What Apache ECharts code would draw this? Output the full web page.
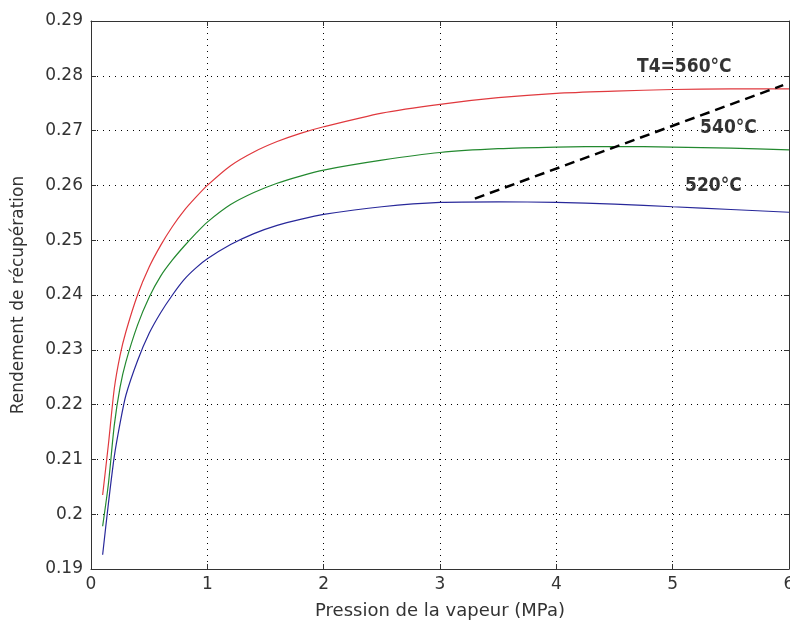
<!DOCTYPE html>
<html>
<head>
<meta charset="utf-8">
<script src="https://cdn.jsdelivr.net/npm/echarts@6/dist/echarts.min.js"></script>
<style>
  html, body { margin: 0; padding: 0; background: #fff; }
  #myChart { width: 790px; height: 625px; }
</style>
</head>
<body>
<div id="myChart"></div>
<script>
// pression de la vapeur (MPa)
var pression = [0.1, 0.15, 0.2, 0.25, 0.3, 0.4, 0.5, 0.6, 0.7, 0.8, 0.9, 1.0, 1.2, 1.4, 1.6, 1.8, 2.0, 2.5, 3.0, 3.5, 4.0, 4.5, 5.0, 5.5, 6.0];
// rendement de récupération pour chaque T4
var rend560 = [0.2035, 0.2128, 0.2229, 0.2290, 0.2333, 0.2400, 0.2451, 0.2491, 0.2525, 0.2554, 0.2578, 0.2600, 0.2636, 0.2661, 0.2680, 0.2695, 0.2707, 0.2732, 0.2748, 0.2760, 0.2768, 0.2772, 0.2775, 0.2776, 0.2776];
var rend540 = [0.1978, 0.2056, 0.2162, 0.2232, 0.2278, 0.2345, 0.2396, 0.2435, 0.2464, 0.2489, 0.2512, 0.2533, 0.2565, 0.2587, 0.2604, 0.2617, 0.2628, 0.2646, 0.2660, 0.2667, 0.2670, 0.2671, 0.2670, 0.2668, 0.2665];
var rend520 = [0.1926, 0.2020, 0.2105, 0.2166, 0.2217, 0.2280, 0.2330, 0.2368, 0.2400, 0.2428, 0.2449, 0.2466, 0.2492, 0.2512, 0.2527, 0.2538, 0.2547, 0.2561, 0.2569, 0.2570, 0.2569, 0.2566, 0.2561, 0.2556, 0.2551];
// droite en tirets (optimum)
var optimum = [[3.30, 0.2576], [5.95, 0.2783]];
// étiquettes des courbes
var etiquettes = [
  { name: 'T4=560°C', value: [5.10, 0.2816] },
  { name: '540°C', value: [5.48, 0.2705] },
  { name: '520°C', value: [5.35, 0.2599] }
];

function pairs(xs, ys) {
  return xs.map(function (x, i) { return [x, ys[i]]; });
}

var gridLine = { show: true, lineStyle: { color: '#000', width: 1, type: [1, 5] } };
var boxLine = { show: true, onZero: false, lineStyle: { color: '#333', width: 1 } };
var tickIn = { show: true, inside: true, length: 5, lineStyle: { color: '#333' } };
var labelFont = { color: '#333', fontSize: 17, fontFamily: 'DejaVu Sans' };

function courbe(data, color) {
  return {
    type: 'line',
    data: data,
    showSymbol: false,
    smooth: 0.25,
    lineStyle: { color: color, width: 1.2 },
    silent: true
  };
}

var myChart = echarts.init(document.getElementById('myChart'));
myChart.setOption({
  animation: false,
  grid: { left: 91, right: 1, top: 21, bottom: 56, outerBoundsMode: 'none', containLabel: false },
  xAxis: [
    {
      type: 'value', min: 0, max: 6, interval: 1,
      name: 'Pression de la vapeur (MPa)',
      nameLocation: 'middle', nameGap: 33,
      nameTextStyle: { color: '#333', fontSize: 18, fontFamily: 'DejaVu Sans' },
      axisLine: boxLine, axisTick: tickIn,
      axisLabel: Object.assign({ margin: 7 }, labelFont),
      splitLine: gridLine
    },
    {
      type: 'value', min: 0, max: 6, interval: 1, position: 'top',
      axisLine: boxLine, axisTick: tickIn,
      axisLabel: { show: false }, splitLine: { show: false }
    }
  ],
  yAxis: [
    {
      type: 'value', min: 0.19, max: 0.29, interval: 0.01,
      name: 'Rendement de récupération',
      nameLocation: 'middle', nameGap: 64, nameRotate: 90,
      nameTextStyle: { color: '#333', fontSize: 17, fontFamily: 'DejaVu Sans' },
      axisLine: boxLine, axisTick: tickIn,
      axisLabel: Object.assign({
        margin: 8,
        formatter: function (v) { return String(parseFloat(v.toFixed(2))); }
      }, labelFont),
      splitLine: gridLine
    },
    {
      type: 'value', min: 0.19, max: 0.29, interval: 0.01, position: 'right',
      axisLine: boxLine, axisTick: tickIn,
      axisLabel: { show: false }, splitLine: { show: false }
    }
  ],
  series: [
    courbe(pairs(pression, rend560), '#e0393e'),
    courbe(pairs(pression, rend540), '#23892f'),
    courbe(pairs(pression, rend520), '#28289a'),
    {
      type: 'line',
      data: optimum,
      showSymbol: false,
      lineStyle: { color: '#000', width: 2.5, type: [10, 6] },
      silent: true
    },
    {
      type: 'scatter',
      data: etiquettes,
      symbolSize: 0,
      silent: true,
      label: {
        show: true,
        position: 'inside',
        formatter: '{b}',
        color: '#000',
        fontSize: 19,
        fontWeight: 'bold',
        fontFamily: "'Liberation Sans Narrow', 'DejaVu Sans Condensed', sans-serif"
      }
    }
  ]
});
</script>
</body>
</html>
